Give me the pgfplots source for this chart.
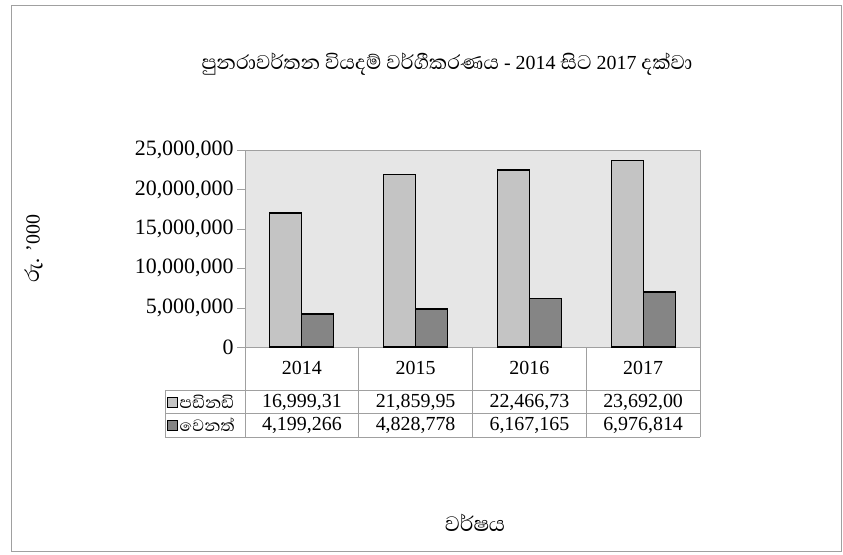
\documentclass[border=0pt]{standalone}
\usepackage{pgfplots}
\pgfplotsset{compat=1.18}
\usepackage{fontspec}
\setmainfont{Liberation Serif}
\newfontfamily\sinhala[Script=Sinhala, Scale=1.28]{Abhaya Libre}
\definecolor{lightbar}{HTML}{C4C4C4}
\definecolor{darkbar}{HTML}{858585}
\definecolor{plotbg}{HTML}{E6E6E6}
\definecolor{frame}{HTML}{A0A0A0}
\begin{document}
\begin{tikzpicture}
\useasboundingbox (0bp,0bp) rectangle (843bp,-555bp);
\draw[frame, line width=1bp] (11bp,-5bp) rectangle (841bp,-551bp);
% title
\node[font=\fontsize{20}{24}\selectfont] at (447bp,-64bp)
  {{\sinhala පුනරාවර්තන වියදම් වර්ගීකරණය} - 2014 {\sinhala සිට} 2017 {\sinhala දක්වා}};
% y label
\node[rotate=90, font=\fontsize{20}{24}\selectfont] at (34bp,-249bp) {{\sinhala රු.} '000};
% x label
\node[font=\fontsize{21}{24}\selectfont\sinhala] at (475bp,-523bp) {වර්ෂය};
\begin{axis}[
  at={(245bp,-347bp)}, anchor=south west,
  scale only axis, width=455bp, height=197bp,
  xmin=-0.5, xmax=3.5, ymin=0, ymax=25000000,
  ybar=0pt, bar width=32bp,
  axis background/.style={fill=plotbg},
  axis line style={frame},
  xtick=\empty,
  ytick={0,5000000,10000000,15000000,20000000,25000000},
  scaled y ticks=false,
  yticklabel style={/pgf/number format/.cd, fixed, 1000 sep={,}, assume math mode=true},
  tick label style={font=\fontsize{22}{24}\selectfont},
  tick align=outside, major tick length=8bp,
  tick style={frame},
  ytick pos=left,
  clip=false,
]
\addplot[fill=lightbar, draw=black, line width=1.2bp] coordinates {(0,16999310) (1,21859950) (2,22466730) (3,23692000)};
\addplot[fill=darkbar, draw=black, line width=1.2bp] coordinates {(0,4199266) (1,4828778) (2,6167165) (3,6976814)};
\end{axis}
% data table
\begin{scope}[frame, line width=0.8bp]
\draw (245bp,-347bp) -- (245bp,-437bp);
\foreach \x in {358,472,586,700} \draw (\x bp,-347bp) -- (\x bp,-437bp);
\draw (165bp,-390bp) -- (700bp,-390bp);
\draw (165bp,-413bp) -- (700bp,-413bp);
\draw (165bp,-437bp) -- (700bp,-437bp);
\draw (165bp,-390bp) -- (165bp,-437bp);
\end{scope}
\begin{scope}[font=\fontsize{20}{24}\selectfont]
\node at (301.9bp,-368bp) {2014};
\node at (415.6bp,-368bp) {2015};
\node at (529.4bp,-368bp) {2016};
\node at (643.1bp,-368bp) {2017};
\node at (301.9bp,-402bp) {16,999,31};
\node at (415.6bp,-402bp) {21,859,95};
\node at (529.4bp,-402bp) {22,466,73};
\node at (643.1bp,-402bp) {23,692,00};
\node at (301.9bp,-425bp) {4,199,266};
\node at (415.6bp,-425bp) {4,828,778};
\node at (529.4bp,-425bp) {6,167,165};
\node at (643.1bp,-425bp) {6,976,814};
\end{scope}
\draw[fill=lightbar, draw=black, line width=0.8bp] (167bp,-397bp) rectangle (177bp,-407bp);
\draw[fill=darkbar, draw=black, line width=0.8bp] (167bp,-420bp) rectangle (177bp,-430bp);
\node[anchor=west, inner sep=1.5bp, font=\fontsize{16.5}{20}\selectfont\sinhala] at (178bp,-402bp) {පඩිනඩි};
\node[anchor=west, inner sep=1.5bp, font=\fontsize{16.5}{20}\selectfont\sinhala] at (178bp,-425bp) {වෙනත්};
\end{tikzpicture}
\end{document}
